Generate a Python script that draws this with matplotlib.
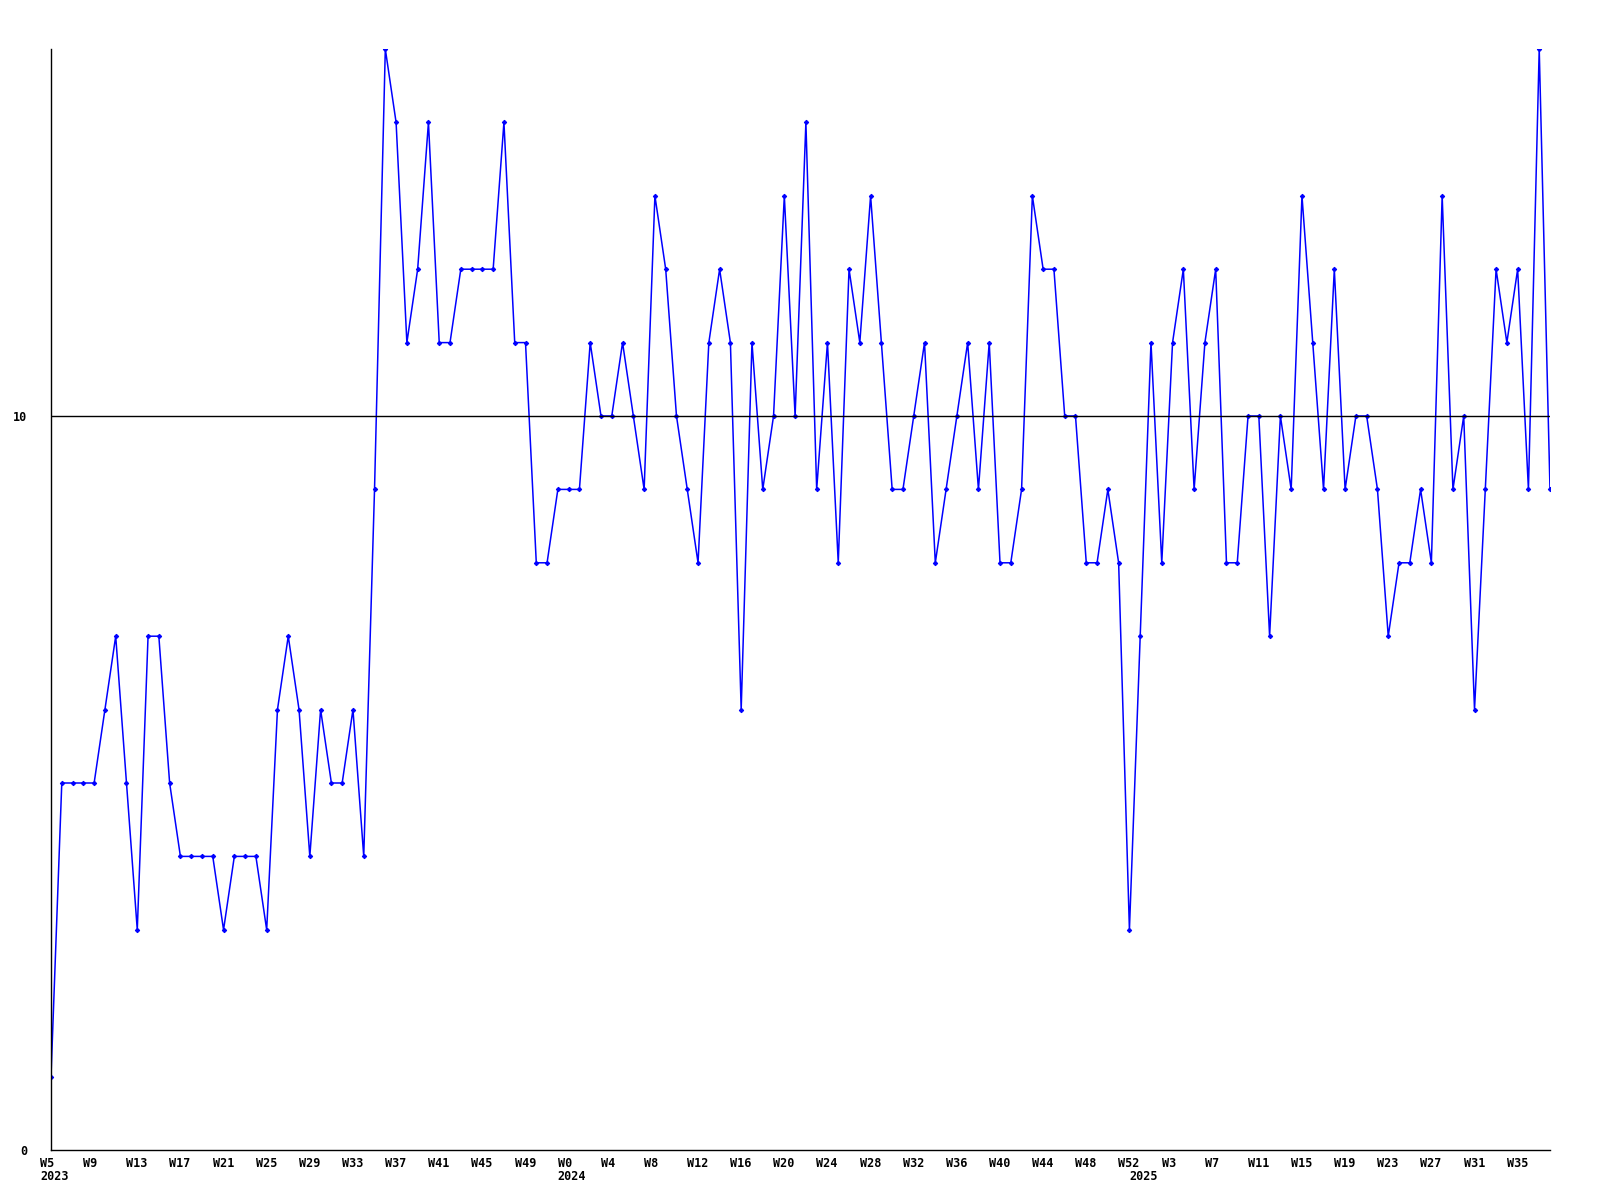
import numpy as np
import matplotlib
matplotlib.use("Agg")
import matplotlib.pyplot as plt
import matplotlib.transforms as mtransforms

# weekly counts, 2023 W5 .. 2025 W38
values_2023 = [1, 5, 5, 5, 5, 6, 7, 5, 3, 7, 7, 5, 4, 4, 4, 4, 3, 4, 4, 4,
               3, 6, 7, 6, 4, 6, 5, 5, 6, 4, 9, 15, 14, 11, 12, 14, 11, 11, 12, 12,
               12, 12, 14, 11, 11, 8, 8, 9]
values_2024 = [9, 9, 11, 10, 10, 11, 10, 9, 13, 12, 10, 9, 8, 11, 12, 11, 6, 11, 9, 10,
               13, 10, 14, 9, 11, 8, 12, 11, 13, 11, 9, 9, 10, 11, 8, 9, 10, 11, 9, 11,
               8, 8, 9, 13, 12, 12, 10, 10, 8, 8, 9, 8, 3]
values_2025 = [7, 11, 8, 11, 12, 9, 11, 12, 8, 8, 10, 10, 7, 10, 9, 13, 11, 9, 12, 9,
               10, 10, 9, 7, 8, 8, 9, 8, 13, 9, 10, 6, 9, 12, 11, 12, 9, 15, 9]
weeks_2023 = list(range(5, 53))
weeks_2024 = list(range(0, 53))
weeks_2025 = list(range(0, 39))
years = ["2023", "2024", "2025"]

values = values_2023 + values_2024 + values_2025
weeks = weeks_2023 + weeks_2024 + weeks_2025
x = np.arange(len(values))

fig = plt.figure(figsize=(16, 12), dpi=100)
ax = fig.add_axes([51 / 1600, 50 / 1200, 1499 / 1600, 1101 / 1200])

ax.plot(x, values, color="#0000ff", lw=1.1, marker="D", ms=2.2, mew=0.8)
ax.axhline(10, color="black", lw=1)

ax.set_xlim(0, len(values) - 1)
ax.set_ylim(0, 15)
for s in ["top", "right"]:
    ax.spines[s].set_visible(False)
for s in ["left", "bottom"]:
    ax.spines[s].set_linewidth(1)

font = dict(family="DejaVu Sans Mono", weight="bold", size=8.5)

ax.set_yticks([0, 10])
ax.set_yticklabels(["0", "10"], **font)
ax.tick_params(axis="y", length=0, pad=17)

tick_idx = x[::4]
ax.set_xticks(tick_idx)
ax.set_xticklabels(["W%d" % weeks[i] for i in tick_idx], ha="left", **font)
ax.tick_params(axis="x", length=0, pad=5)
shift = mtransforms.ScaledTranslation(-11 / 100, 0, fig.dpi_scale_trans)
for lab in ax.get_xticklabels():
    lab.set_transform(lab.get_transform() + shift)

# year labels at the first week of each year
year_starts = [0, len(values_2023), len(values_2023) + len(values_2024)]
trans = mtransforms.blended_transform_factory(ax.transData, ax.transAxes) + shift
for xi, yr in zip(year_starts, years):
    ax.text(xi, 0, yr, transform=trans, ha="left", va="top", **font)
    ax.texts[-1].set_transform(trans + mtransforms.ScaledTranslation(0, -20 / 100, fig.dpi_scale_trans))

fig.savefig("out.png", dpi=100)
